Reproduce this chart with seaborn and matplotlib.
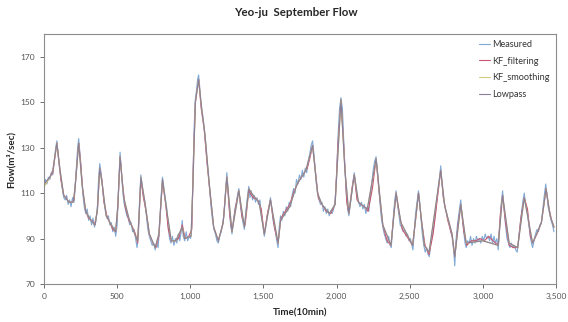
import matplotlib
matplotlib.use("Agg")
import matplotlib.pyplot as plt
import matplotlib.ticker as mticker
import seaborn as sns
import pandas as pd

# ---- data (time in 10-min steps, flow in m3/sec) ----
measured_t = [0, 10, 20, 30, 40, 50, 60, 70, 80, 88, 95, 105, 115, 125, 135, 145, 155, 165, 175, 185, 195, 205,
              210, 220, 230, 237, 245, 255, 265, 275, 285, 295, 305, 315, 325, 335, 345, 355, 365,
              372, 381, 390, 400, 410, 420, 430, 440, 450, 460, 470, 480, 490, 500,
              507, 515, 520, 528, 536, 546, 556, 566, 576, 586, 596, 606, 616, 626, 636, 646,
              652, 662, 670, 680, 690, 700, 710, 720, 730, 740, 750, 760, 770, 780, 790,
              800, 810, 818, 828, 838, 848, 858, 868, 878, 888, 898, 908, 918, 928, 938, 945, 952, 962, 972, 982, 992, 1002, 1010,
              1018, 1026, 1034, 1042, 1050, 1057, 1064, 1072, 1080, 1088, 1096, 1104, 1112, 1122, 1132, 1142, 1152, 1162, 1172,
              1182, 1192, 1200, 1212, 1222, 1232, 1240, 1250, 1258, 1266, 1276, 1285, 1295, 1305, 1315, 1325, 1332, 1340, 1350,
              1360, 1370, 1380, 1390, 1400, 1408, 1416, 1426, 1436, 1446, 1456, 1466, 1476, 1486, 1496, 1506, 1516, 1526, 1536,
              1548, 1556, 1566, 1576, 1586, 1594, 1600, 1608, 1617, 1626, 1636, 1646, 1656, 1666, 1676, 1686, 1696, 1706, 1716,
              1726, 1736, 1746, 1756, 1766, 1776, 1786, 1796, 1806, 1816, 1826, 1836, 1844, 1852, 1860, 1870, 1880, 1890, 1900,
              1910, 1920, 1930, 1940, 1950, 1960, 1970, 1980, 1990,
              2000, 2010, 2020, 2030, 2040, 2048, 2056, 2066, 2076, 2084, 2092, 2100, 2110, 2121, 2130, 2140, 2150, 2160, 2170,
              2180, 2190, 2200, 2210, 2220, 2230, 2240, 2250, 2260, 2270, 2278, 2286, 2296, 2306, 2316, 2326, 2336, 2346, 2356,
              2366, 2374, 2382, 2392, 2400, 2407, 2415, 2425, 2435, 2445, 2455, 2465, 2475, 2485, 2495, 2505, 2515, 2522, 2530,
              2540, 2550, 2560, 2568, 2576, 2586, 2596, 2606, 2616, 2626, 2634, 2644, 2654, 2664, 2674, 2684, 2694, 2704, 2712,
              2720, 2730, 2740, 2750, 2760, 2770, 2780, 2790, 2800, 2808, 2816, 2826, 2836, 2849, 2858, 2868, 2878, 2886, 2896,
              2906, 2916, 2926, 2936, 2946, 2956, 2966, 2976, 2986, 2996, 3006, 3016, 3026, 3036, 3046, 3056, 3066, 3076, 3086,
              3096, 3105, 3115, 3125, 3135, 3145, 3155, 3165, 3175, 3185, 3195, 3205, 3215, 3225, 3235, 3245, 3255, 3265, 3275,
              3283, 3292, 3302, 3312, 3322, 3332, 3340, 3350, 3360, 3370, 3380, 3390, 3400, 3410, 3420, 3430, 3438, 3446, 3456,
              3466, 3476, 3486]
measured_v = [113, 116, 114, 117, 116, 119, 118, 124, 130, 133, 128, 122, 117, 112, 108, 107, 109, 105, 107, 104, 108, 106,
              110, 120, 130, 134, 128, 119, 110, 104, 101, 103, 98, 100, 96, 99, 95, 98, 104,
              115, 123, 119, 113, 106, 102, 99, 100, 96, 97, 93, 95, 91, 96,
              108, 120, 128, 121, 113, 106, 103, 100, 99, 96, 97, 93, 94, 90, 86, 92,
              105, 118, 114, 108, 106, 100, 94, 91, 89, 87, 88, 85, 88, 86, 95,
              108, 117, 113, 108, 104, 96, 90, 88, 91, 87, 90, 88, 92, 89, 93, 98, 91, 89, 93, 89, 91, 90, 95,
              115, 138, 151, 155, 160, 162, 157, 150, 146, 143, 138, 133, 126, 119, 112, 104, 98, 94, 92,
              89, 88, 91, 93, 97, 101, 110, 119, 112, 104, 96, 92, 98, 103, 106, 110, 112, 106, 101,
              97, 94, 102, 108, 113, 108, 111, 107, 109, 106, 108, 105, 107, 101, 96, 91, 95, 100, 103,
              108, 104, 98, 95, 91, 88, 86, 95, 100, 98, 102, 100, 104, 102, 106, 104, 109, 112, 110,
              116, 114, 118, 116, 120, 117, 121, 119, 124, 127, 131, 133, 128, 122, 115, 110, 107, 105, 106,
              102, 104, 101, 103, 100, 102, 101, 103, 107,
              118, 135, 147, 152, 147, 135, 122, 110, 103, 100, 104, 108, 114, 119, 114, 108, 106, 104, 106,
              103, 105, 101, 104, 102, 108, 114, 120, 124, 126, 121, 115, 106, 99, 95, 92, 90, 88, 91,
              87, 86, 94, 103, 108, 111, 106, 101, 96, 95, 93, 94, 91, 92, 89, 90, 87, 85, 92,
              101, 106, 111, 106, 100, 92, 87, 84, 86, 83, 82, 88, 91, 95, 100, 106, 112, 117, 122,
              115, 108, 104, 102, 99, 97, 93, 91, 85, 78, 89, 96, 101, 107, 100, 94, 88, 86, 89,
              88, 91, 87, 90, 88, 91, 89, 90, 88, 91, 89, 92, 90, 91, 89, 92, 88, 91, 88,
              90, 85, 95, 105, 111, 103, 96, 90, 88, 86, 88, 86, 87, 85, 84, 90, 96, 102, 107,
              110, 105, 103, 97, 92, 88, 86, 89, 92, 94, 93, 96, 97, 103, 109, 114, 109, 104, 101,
              98, 96, 93]

filter_t = [0, 20, 40, 60, 75, 88, 100, 115, 135, 150, 170, 190, 205, 220, 237, 250, 265, 285, 305, 325, 345, 365,
            381, 395, 410, 430, 450, 470, 490, 505, 520, 535, 555, 580, 605, 625, 640, 652, 662, 680, 700, 720, 745,
            765, 785, 810, 830, 850, 870, 895, 920, 945, 965, 990, 1010, 1022, 1035, 1057, 1075, 1095, 1115, 1135,
            1160, 1192, 1225, 1250, 1270, 1285, 1310, 1332, 1355, 1375, 1400, 1430, 1460, 1485, 1506, 1530, 1548,
            1575, 1600, 1620, 1650, 1680, 1710, 1740, 1770, 1800, 1820, 1836, 1855, 1875, 1900, 1930, 1960, 1990,
            2010, 2030, 2050, 2070, 2084, 2105, 2121, 2140, 2165, 2190, 2215, 2245, 2270, 2290, 2316, 2345, 2372,
            2392, 2407, 2425, 2450, 2480, 2520, 2545, 2560, 2580, 2605, 2632, 2660, 2690, 2712, 2730, 2760, 2790,
            2808, 2830, 2849, 2870, 2890, 2920, 2950, 2980, 3010, 3040, 3070, 3105, 3120, 3135, 3155, 3180, 3210,
            3238, 3260, 3283, 3305, 3325, 3340, 3370, 3400, 3420, 3432, 3450, 3470, 3486]
filter_v = [114, 115, 117, 119, 126, 132, 125, 116, 109, 108, 106, 106, 107, 119, 132, 124, 111, 102, 99, 98, 96, 102,
            121, 116, 106, 100, 97, 94, 93, 104, 126, 115, 104, 98, 95, 92, 88, 102, 116, 108, 101, 92, 88,
            86, 91, 115, 106, 94, 89, 89, 90, 96, 90, 91, 94, 126, 150, 160, 147, 138, 123, 110,
            95, 89, 97, 117, 100, 93, 104, 111, 99, 96, 111, 108, 107, 103, 92, 102, 107,
            95, 88, 99, 102, 105, 111, 115, 118, 121, 126, 131, 120, 108, 105, 102, 101, 105,
            132, 151, 130, 106, 101, 112, 118, 107, 105, 104, 102, 112, 125, 111, 96, 89, 87,
            101, 110, 102, 94, 91, 87, 101, 110, 98, 87, 83, 92, 108, 120, 108, 98, 91,
            82, 96, 105, 93, 87, 89, 89, 90, 89, 91, 89, 87, 101, 109, 97, 87, 86,
            86, 99, 108, 103, 91, 88, 92, 97, 106, 112, 104, 98, 95]

smooth_t = [0, 3, 40, 60, 88, 110, 135, 170, 200, 215, 237, 260, 285, 320, 350, 365, 381, 400, 425, 460, 490, 505,
            520, 545, 580, 620, 640, 652, 662, 690, 720, 760, 785, 810, 840, 870, 900, 945, 960, 1005, 1020, 1035,
            1057, 1080, 1100, 1130, 1160, 1192, 1225, 1250, 1285, 1332, 1370, 1400, 1430, 1470, 1506, 1548, 1600,
            1617, 1680, 1730, 1790, 1836, 1870, 1900, 1950, 1990, 2030, 2056, 2084, 2121, 2150, 2210, 2270, 2316,
            2372, 2407, 2440, 2520, 2560, 2600, 2632, 2712, 2740, 2790, 2808, 2849, 2886, 3000, 3105, 3135, 3180,
            3238, 3283, 3340, 3400, 3432, 3460, 3486]
smoothing_v = [70, 113, 117, 120, 132, 120, 109, 106, 106, 114, 132, 114, 102, 98, 96, 103, 121, 113, 100, 96, 93, 105,
               126, 108, 99, 92, 89, 103, 117, 106, 92, 86, 92, 116, 102, 89, 89, 95, 90, 91, 118, 150,
               160, 146, 136, 114, 95, 89, 97, 117, 93, 111, 95, 112, 109, 106, 92, 107, 88,
               98, 104, 114, 120, 131, 110, 105, 101, 105, 151, 121, 101, 118, 106, 103, 125, 96,
               87, 110, 97, 87, 110, 87, 84, 120, 104, 92, 82, 105, 88, 89, 87, 109, 88,
               86, 108, 88, 97, 112, 100, 95]
lowpass_t = [0, 40, 60, 88, 110, 135, 170, 200, 215, 237, 260, 285, 320, 350, 365, 381, 400, 425, 460, 490, 505,
             520, 545, 580, 620, 640, 652, 662, 690, 720, 760, 785, 810, 840, 870, 900, 945, 960, 1005, 1020, 1035,
             1057, 1080, 1100, 1130, 1160, 1192, 1225, 1250, 1285, 1332, 1370, 1400, 1430, 1470, 1506, 1548, 1600,
             1617, 1680, 1730, 1790, 1836, 1870, 1900, 1950, 1990, 2030, 2056, 2084, 2121, 2150, 2210, 2270, 2316,
             2372, 2407, 2440, 2520, 2560, 2600, 2632, 2712, 2740, 2790, 2808, 2849, 2886, 3000, 3105, 3135, 3180,
             3238, 3283, 3340, 3400, 3432, 3460, 3486]
lowpass_v = [114, 117, 120, 132, 120, 109, 106, 106, 114, 132, 114, 102, 98, 96, 103, 121, 113, 100, 96, 93, 105,
             126, 108, 99, 92, 89, 103, 117, 106, 92, 86, 92, 116, 102, 89, 89, 95, 90, 91, 118, 150,
             160, 146, 136, 114, 95, 89, 97, 117, 93, 111, 95, 112, 109, 106, 92, 107, 88,
             98, 104, 114, 120, 131, 110, 105, 101, 105, 151, 121, 101, 118, 106, 103, 125, 96,
             87, 110, 97, 87, 110, 87, 84, 120, 104, 92, 82, 105, 88, 89, 87, 109, 88,
             86, 108, 88, 97, 112, 100, 95]

series_names = ["Measured", "KF_filtering", "KF_smoothing", "Lowpass"]
series_colors = ["#7fa9d6", "#c8566e", "#d4cc7a", "#8a7f99"]
x_ticks = [0, 500, 1000, 1500, 2000, 2500, 3000, 3500]
y_ticks = [70, 90, 110, 130, 150, 170]

frames = []
for name, t, v in zip(series_names,
                      [measured_t, filter_t, smooth_t, lowpass_t],
                      [measured_v, filter_v, smoothing_v, lowpass_v]):
    frames.append(pd.DataFrame({"Time": t, "Flow": v, "Series": name}))
df = pd.concat(frames, ignore_index=True)

sns.set_style("white")
plt.rcParams["font.family"] = ["Lato", "DejaVu Sans"]

fig = plt.figure(figsize=(5.68, 3.22), dpi=100)
ax = fig.add_axes([44 / 568, 1 - 284 / 322, 512 / 568, 250 / 322])

sns.lineplot(data=df, x="Time", y="Flow", hue="Series", hue_order=series_names,
             palette=dict(zip(series_names, series_colors)), estimator=None, sort=False,
             linewidth=0.8, ax=ax, legend=True)

ax.set_xlim(0, 3500)
ax.set_ylim(70, 180)
ax.set_xticks(x_ticks)
ax.set_yticks(y_ticks)
ax.xaxis.set_major_formatter(mticker.FuncFormatter(lambda v, p: f"{int(v):,}"))
ax.tick_params(axis="both", labelsize=6, colors="#555555", length=3, width=0.6,
               direction="out", bottom=True, left=True)
for s in ax.spines.values():
    s.set_color("#8c8c8c")
    s.set_linewidth(0.8)

ax.set_xlabel("Time(10min)", fontsize=7, fontweight="bold", labelpad=6)
ax.set_ylabel("Flow(m\u00b3/sec)", fontsize=7, fontweight="bold", labelpad=3)
fig.text(296 / 568, 1 - 13 / 322, "Yeo-ju  September Flow", ha="center", va="center",
         fontsize=8.3, fontweight="bold")

handles, labels = ax.get_legend_handles_labels()
leg = ax.legend(handles, labels, loc="upper left", bbox_to_anchor=(0.84, 0.995),
                frameon=False, fontsize=6.6, handlelength=1.2, handletextpad=0.3,
                labelspacing=0.85, borderpad=0.0)
for line in leg.get_lines():
    line.set_linewidth(0.8)
for txt in leg.get_texts():
    txt.set_color("#333333")

fig.savefig("out.png", dpi=100)
